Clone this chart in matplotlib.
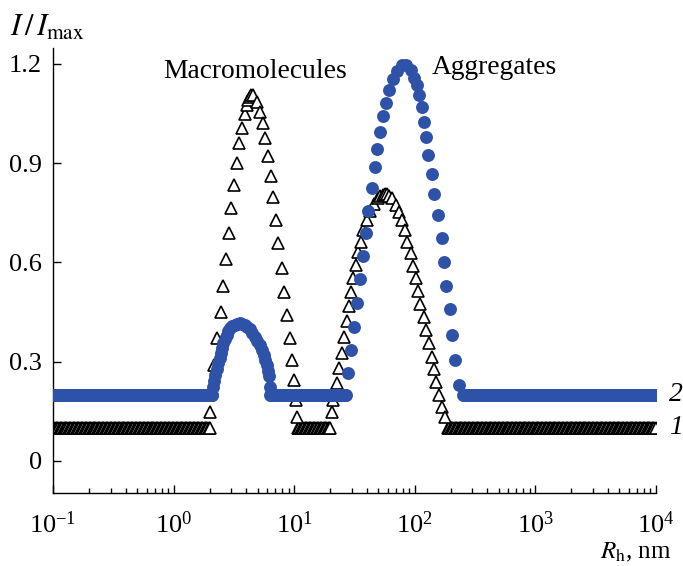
import numpy as np
import matplotlib
matplotlib.use("Agg")
import matplotlib.pyplot as plt
from matplotlib.ticker import FixedLocator, FixedFormatter, LogLocator

plt.rcParams["font.family"] = "serif"
plt.rcParams["font.serif"] = ["Liberation Serif", "DejaVu Serif"]
plt.rcParams["mathtext.fontset"] = "stix"

# curve 1 (triangles): baseline level and the two peaks
base1 = 0.10
base1_ranges = [(0.1, 2.0, 120), (10.75, 20.0, 25), (189.6, 1e4, 160)]
peak1a_x = [2.004, 2.082, 2.163, 2.290, 2.472, 2.568, 2.719, 2.880, 2.992, 3.168,
            3.355, 3.486, 3.691, 3.908, 4.061, 4.180, 4.300, 4.420, 4.554, 4.914,
            5.204, 5.511, 5.725, 6.064, 6.420, 6.671, 7.066, 7.340, 7.921, 8.229,
            8.715, 9.231, 9.590, 9.961, 10.35, 10.55]
peak1a_y = [0.148, 0.215, 0.290, 0.372, 0.450, 0.529, 0.611, 0.689, 0.765, 0.834,
            0.901, 0.961, 1.007, 1.049, 1.076, 1.092, 1.100, 1.106, 1.106, 1.085,
            1.055, 1.022, 0.977, 0.922, 0.862, 0.798, 0.729, 0.659, 0.583, 0.511,
            0.441, 0.372, 0.305, 0.245, 0.184, 0.133]
peak1b_x = [20.46, 21.10, 22.78, 23.66, 24.77, 26.03, 27.26, 28.64, 29.42, 30.90,
            32.54, 34.00, 35.60, 37.41, 39.92, 42.52, 45.89, 49.82, 52.10, 54.81,
            57.00, 59.16, 61.50, 64.36, 69.86, 74.41, 77.90, 82.96, 86.68, 92.49,
            97.18, 102.3, 106.9, 111.9, 119.2, 125.5, 131.9, 138.1, 144.3, 151.9,
            159.7, 167.2, 178.1]
peak1b_y = [0.149, 0.184, 0.236, 0.281, 0.326, 0.376, 0.424, 0.469, 0.512, 0.553,
            0.593, 0.633, 0.663, 0.698, 0.729, 0.757, 0.777, 0.794, 0.800, 0.804,
            0.806, 0.807, 0.802, 0.794, 0.774, 0.754, 0.729, 0.698, 0.663, 0.628,
            0.589, 0.552, 0.515, 0.475, 0.436, 0.396, 0.356, 0.315, 0.277, 0.240,
            0.200, 0.164, 0.134]

# curve 2 (circles)
base2 = 0.20
base2_ranges = [(0.1, 2.1, 200), (6.3, 27.0, 100), (252.5, 1e4, 260)]
peak2a_x = [2.134, 2.170, 2.205, 2.280, 2.348, 2.410, 2.472, 2.530, 2.583, 2.670,
            2.756, 2.840, 2.935, 3.080, 3.229, 3.390, 3.553, 3.730, 3.908, 4.100,
            4.300, 4.510, 4.732, 4.960, 5.204, 5.410, 5.617, 5.770, 5.916, 6.060,
            6.218, 6.302]
peak2a_y = [0.223, 0.242, 0.260, 0.278, 0.295, 0.311, 0.326, 0.341, 0.356, 0.369,
            0.381, 0.392, 0.401, 0.407, 0.411, 0.414, 0.416, 0.414, 0.411, 0.405,
            0.398, 0.388, 0.376, 0.364, 0.351, 0.336, 0.320, 0.305, 0.290, 0.273,
            0.257, 0.223]
peak2b_x = [28.10, 29.42, 31.33, 33.36, 35.12, 36.98, 39.40, 41.16, 43.92, 46.77,
            48.87, 51.45, 54.81, 57.71, 61.46, 65.56, 70.79, 77.90, 84.53, 92.49,
            98.49, 104.9, 109.0, 114.1, 119.2, 123.9, 129.4, 138.1, 144.3, 156.6,
            167.2, 174.7, 181.5, 195.8, 206.2, 215.4, 233.9]
peak2b_y = [0.267, 0.336, 0.406, 0.477, 0.549, 0.620, 0.690, 0.757, 0.824, 0.888,
            0.942, 0.995, 1.043, 1.083, 1.122, 1.154, 1.180, 1.197, 1.197, 1.182,
            1.157, 1.137, 1.106, 1.069, 1.026, 0.979, 0.925, 0.868, 0.807, 0.744,
            0.673, 0.602, 0.529, 0.459, 0.381, 0.305, 0.230]

ytick_vals = [0, 0.3, 0.6, 0.9, 1.2]
ytick_text = ["0", "0.3", "0.6", "0.9", "1.2"]


def baseline(ranges, level):
    xs = np.concatenate([np.geomspace(a, b, n) for a, b, n in ranges])
    return xs, np.full(len(xs), level)


fig = plt.figure(figsize=(6.83, 5.66), dpi=100)
ax = fig.add_axes([0.0776, 0.129, 0.8824, 0.786])

bx1, by1 = baseline(base1_ranges, base1)
bx2, by2 = baseline(base2_ranges, base2)
x1 = np.concatenate([bx1, peak1a_x, peak1b_x])
y1 = np.concatenate([by1, peak1a_y, peak1b_y])
x2 = np.concatenate([bx2, peak2a_x, peak2b_x])
y2 = np.concatenate([by2, peak2a_y, peak2b_y])

ax.plot(x1, y1, ls="none", marker="^", ms=8.8, mfc="white", mec="black",
        mew=1.2, zorder=2)
ax.plot(x2, y2, ls="none", marker="o", ms=9.3, mfc="#2E52A8", mec="#2E52A8",
        mew=0, zorder=3)

ax.set_xscale("log")
ax.set_xlim(0.1, 1e4)
ax.set_ylim(-0.097, 1.248)
ax.spines["top"].set_visible(False)
ax.spines["right"].set_visible(False)
ax.spines["left"].set_linewidth(1.0)
ax.spines["bottom"].set_linewidth(1.0)

ax.yaxis.set_major_locator(FixedLocator(ytick_vals))
ax.yaxis.set_major_formatter(FixedFormatter(ytick_text))
ax.xaxis.set_major_locator(LogLocator(base=10, numticks=10))
ax.xaxis.set_minor_locator(LogLocator(base=10, subs=np.arange(2, 10), numticks=20))
ax.tick_params(axis="both", which="major", direction="in", length=6, width=1.0,
               labelsize=19)
ax.tick_params(axis="x", which="minor", direction="in", length=3.5, width=1.0)
ax.tick_params(axis="x", which="major", pad=13)
ax.tick_params(axis="y", which="major", pad=8)

ax.text(0.817, 1.176, "Macromolecules", fontsize=19.8, ha="left", va="center")
ax.text(138.9, 1.19, "Aggregates", fontsize=19.8, ha="left", va="center")
ax.text(14660, base2, "2", fontsize=20, style="italic", ha="center", va="center",
        clip_on=False)
ax.text(14660, base1, "1", fontsize=20, style="italic", ha="center", va="center",
        clip_on=False)

fig.text(10 / 683, 1 - 28 / 566, r"$I\,/\,I_{\mathrm{max}}$", fontsize=22,
         ha="left", va="center")
fig.text(672 / 683, 1 - 552 / 566, r"$R_{\mathrm{h}}$, nm", fontsize=18,
         ha="right", va="center")

fig.savefig("out.png", dpi=100)
